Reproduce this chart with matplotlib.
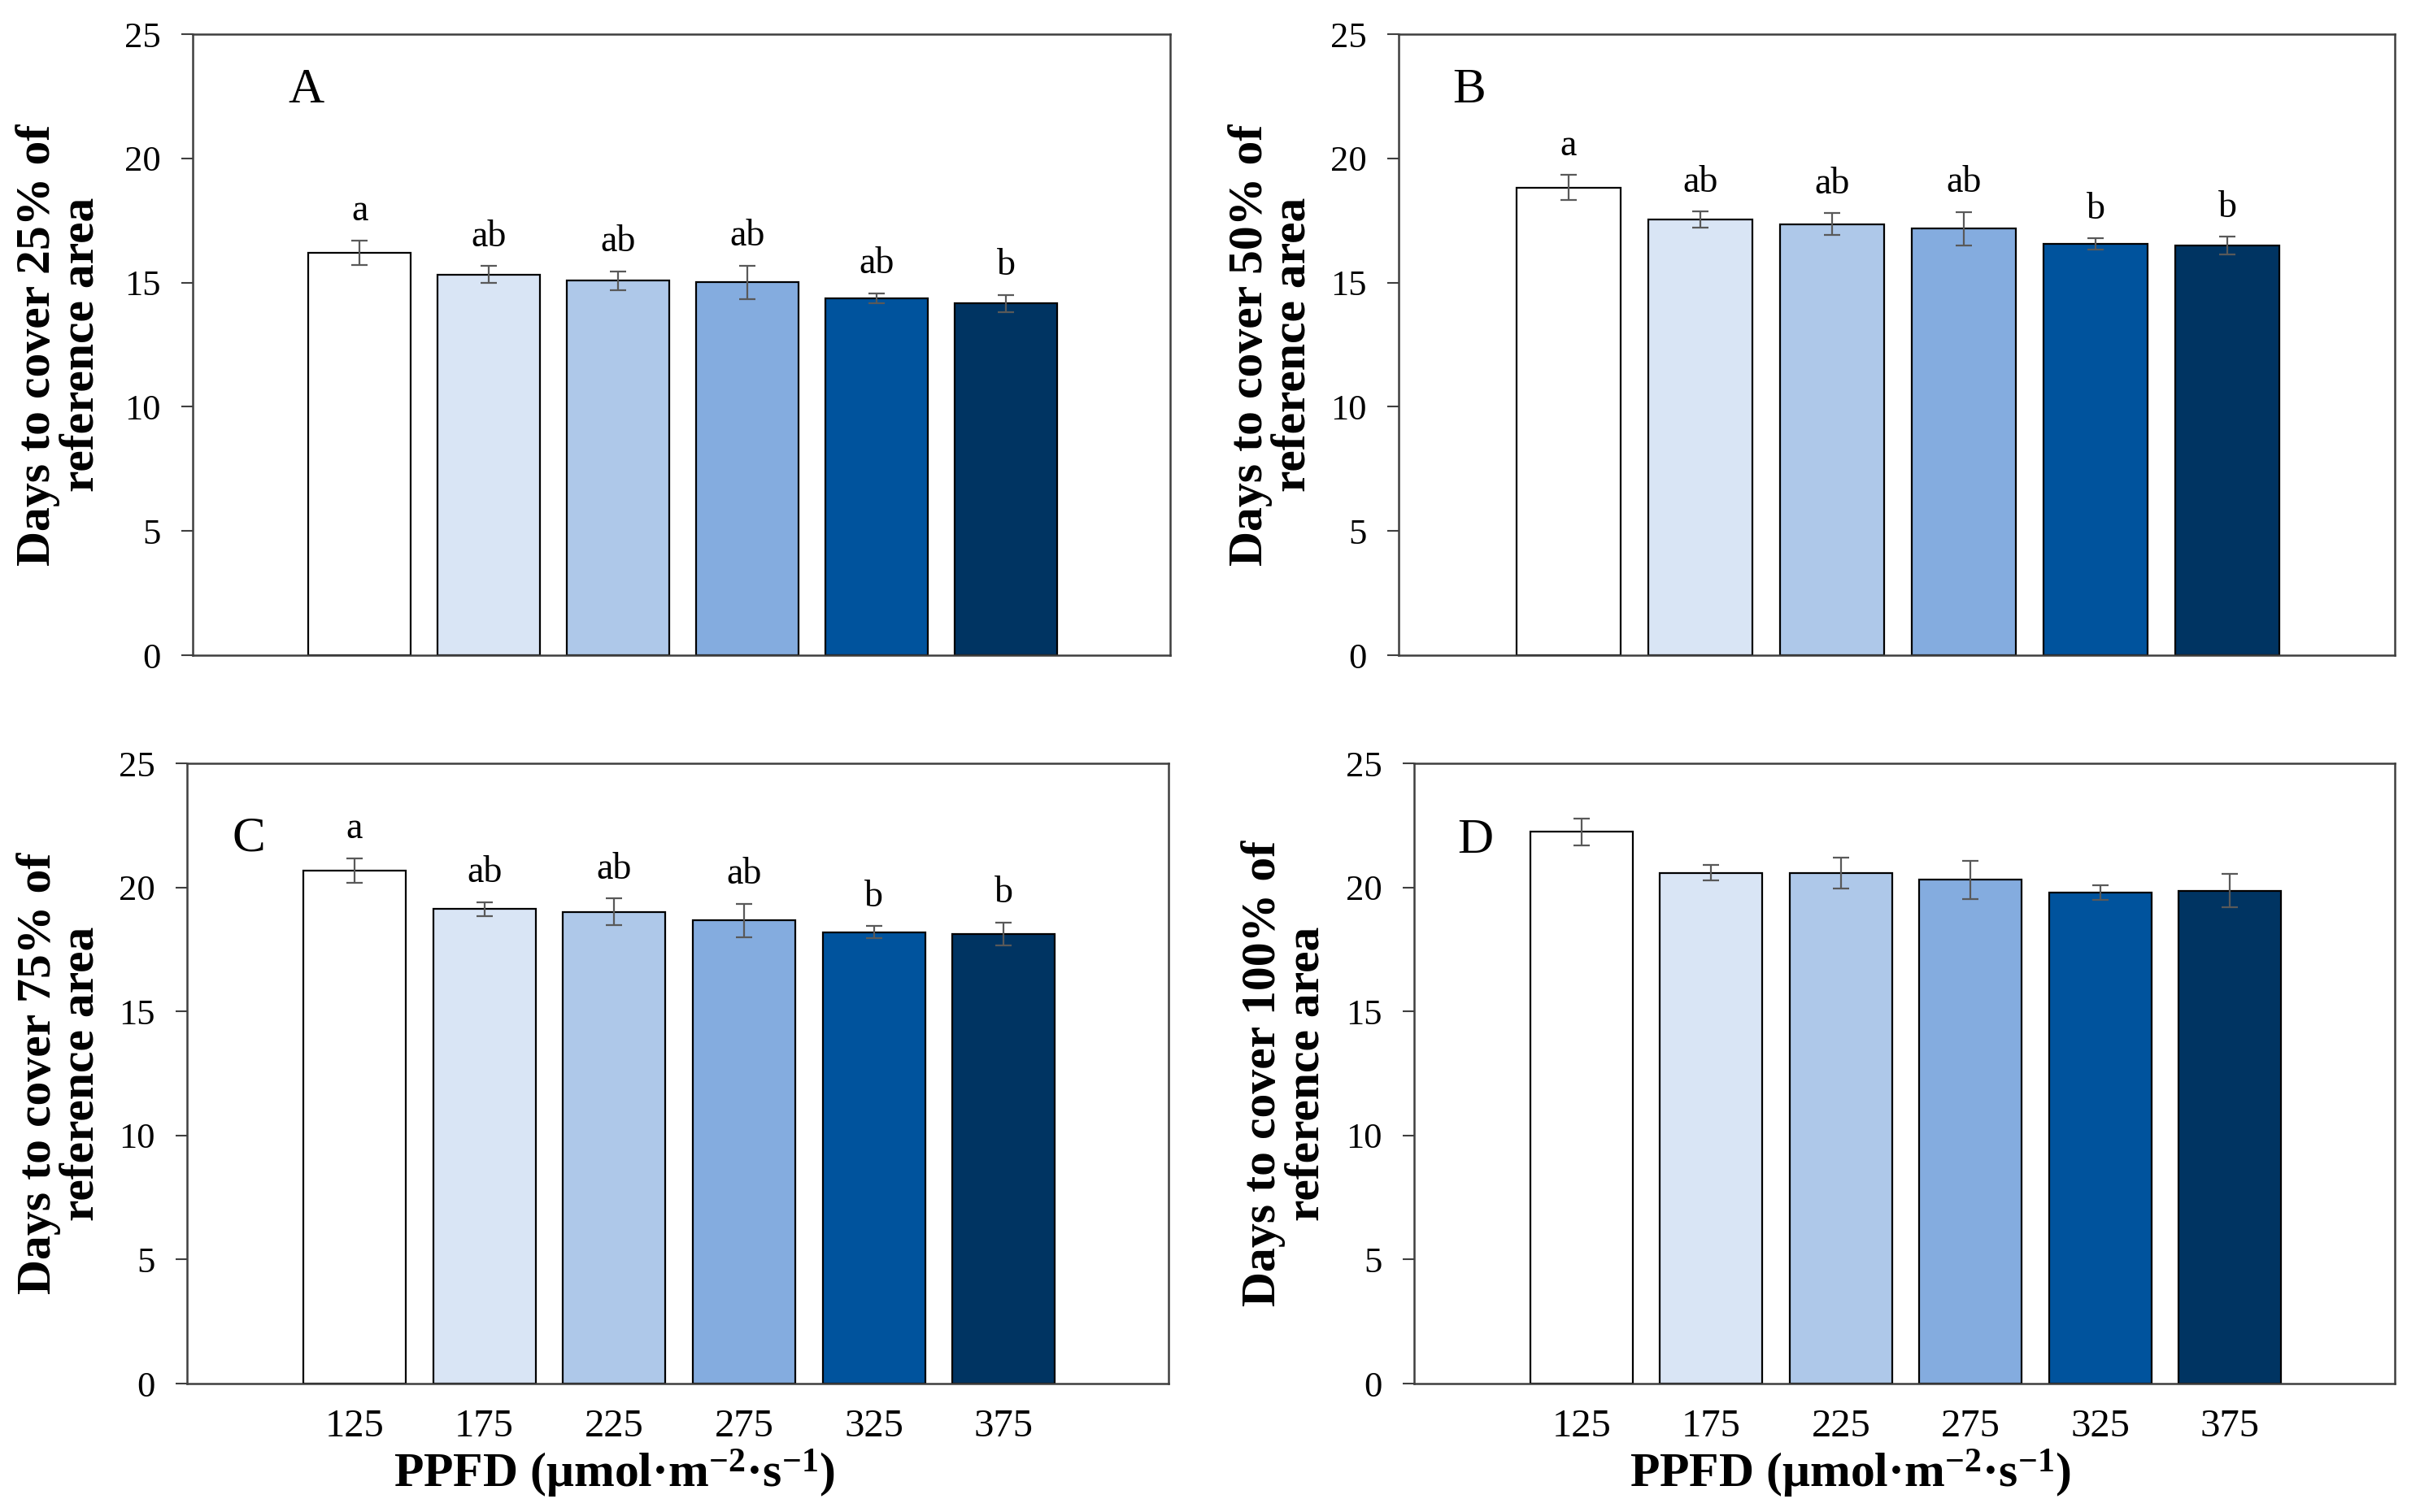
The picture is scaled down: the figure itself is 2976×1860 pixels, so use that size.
import matplotlib
matplotlib.use("Agg")
import matplotlib.pyplot as plt
import numpy as np

plt.rcParams['font.family'] = ['Liberation Serif', 'DejaVu Serif']
plt.rcParams['mathtext.fontset'] = 'custom'
plt.rcParams['mathtext.rm'] = 'Liberation Serif'
plt.rcParams['mathtext.bf'] = 'Liberation Serif:bold'
plt.rcParams['mathtext.it'] = 'Liberation Serif:italic'

# ---------------- data ----------------
ppfd = ['125', '175', '225', '275', '325', '375']
colors = ['#FFFFFF', '#D9E5F5', '#AEC8E9', '#84ACDF', '#00539D', '#003462']

days25 = [16.20, 15.33, 15.08, 15.01, 14.37, 14.16]
err25 = [0.50, 0.34, 0.38, 0.68, 0.20, 0.35]
letters25 = ['a', 'ab', 'ab', 'ab', 'ab', 'b']

days50 = [18.83, 17.53, 17.35, 17.17, 16.55, 16.48]
err50 = [0.51, 0.33, 0.44, 0.67, 0.23, 0.36]
letters50 = ['a', 'ab', 'ab', 'ab', 'b', 'b']

days75 = [20.67, 19.12, 19.02, 18.67, 18.20, 18.12]
err75 = [0.50, 0.28, 0.54, 0.67, 0.24, 0.47]
letters75 = ['a', 'ab', 'ab', 'ab', 'b', 'b']

days100 = [22.24, 20.58, 20.58, 20.30, 19.79, 19.87]
err100 = [0.54, 0.31, 0.63, 0.77, 0.30, 0.67]
letters100 = []

ylabels = ['Days to cover 25% of\nreference area',
           'Days to cover 50% of\nreference area',
           'Days to cover 75% of\nreference area',
           'Days to cover 100% of\nreference area']
panel_ids = ['A', 'B', 'C', 'D']
xlabel = r'PPFD (μmol·m$^{\mathbf{-2}}$·s$^{\mathbf{-1}}$)'

# ---------------- figure ----------------
W, H = 2976, 1860
fig = plt.figure(figsize=(W / 100, H / 100), dpi=100)

def rect(l, r, t, b):
    return [l / W, 1 - b / H, (r - l) / W, (b - t) / H]

rects = [rect(237, 1439, 42, 806), rect(1720, 2945, 42, 806),
         rect(230, 1437, 939, 1702), rect(1739, 2945, 939, 1702)]
ylab_x = [-0.1356, -0.127, -0.129, -0.131]
pid_pos = [(0.098, 0.91), (0.054, 0.91), (0.0456, 0.878), (0.044, 0.875)]
xlab_x = [None, None, 0.435, 0.445]

series = [(days25, err25, letters25), (days50, err50, letters50),
          (days75, err75, letters75), (days100, err100, letters100)]

spine_col = '#3F3F3F'
x = np.arange(len(ppfd))

for i, (vals, errs, lets) in enumerate(series):
    ax = fig.add_axes(rects[i])
    ax.bar(x, vals, width=0.79, color=colors, edgecolor='black', linewidth=1.6, zorder=2)
    ax.errorbar(x, vals, yerr=errs, fmt='none', ecolor='#595959', elinewidth=1.6,
                capsize=7, capthick=1.6, zorder=3)
    for xi, v, e, l in zip(x, vals, errs, lets):
        ax.text(xi, v + e + 0.8, l, ha='center', va='baseline', fontsize=33)
    ax.set_xlim(-1.29, 6.27)
    ax.set_ylim(0, 25)
    ax.set_yticks([0, 5, 10, 15, 20, 25])
    ax.tick_params(axis='y', direction='out', length=10, width=1.5, color=spine_col,
                   pad=18, labelsize=32)
    ax.tick_params(axis='x', length=0, pad=22, labelsize=35)
    ax.set_xticks(x)
    if i >= 2:
        ax.set_xticklabels(ppfd)
        ax.text(xlab_x[i], -0.145, xlabel, transform=ax.transAxes, ha='center',
                va='center', fontsize=43, fontweight='bold')
    else:
        ax.set_xticklabels([])
    for sp in ax.spines.values():
        sp.set_color(spine_col)
        sp.set_linewidth(1.8)
    ax.text(ylab_x[i], 0.5, ylabels[i], transform=ax.transAxes, rotation=90,
            ha='center', va='center', multialignment='center', fontsize=43,
            fontweight='bold', linespacing=1.0)
    ax.text(pid_pos[i][0], pid_pos[i][1], panel_ids[i], transform=ax.transAxes,
            ha='left', va='center', fontsize=44)

fig.savefig('out.png', dpi=100)
